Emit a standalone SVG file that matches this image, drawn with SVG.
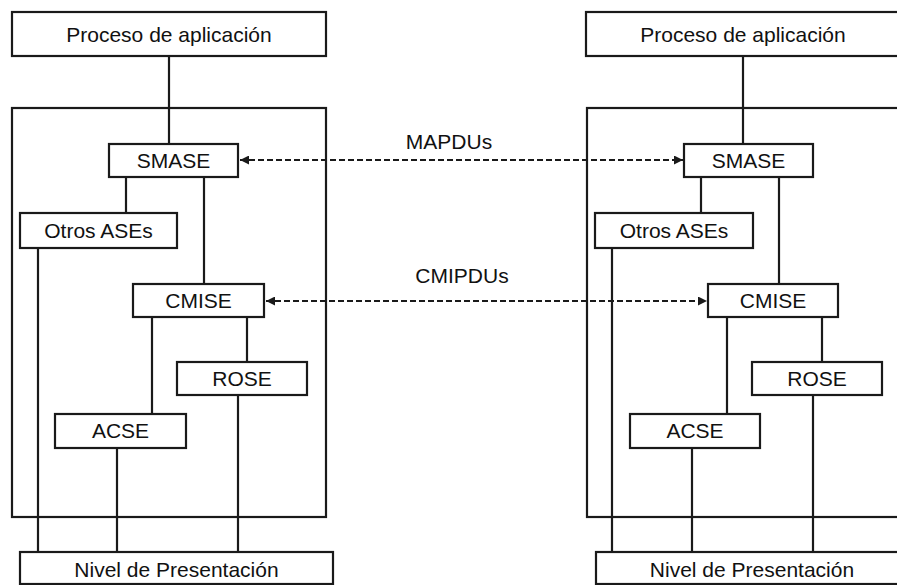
<svg xmlns="http://www.w3.org/2000/svg" width="897" height="585" viewBox="0 0 897 585">
  <defs>
    <style>
      .box { fill: #fff; stroke: #1a1a1a; stroke-width: 2.2; }
      .frame { fill: none; stroke: #1a1a1a; stroke-width: 2.2; }
      .wire { fill: none; stroke: #1a1a1a; stroke-width: 2.2; }
      .pdu { fill: none; stroke: #1a1a1a; stroke-width: 2.2; stroke-dasharray: 6 3; }
      text { font-family: "Liberation Sans", Arial, sans-serif; font-size: 21px; fill: #111; text-anchor: middle; }
    </style>
    <marker id="arr" viewBox="0 0 10 10" refX="10" refY="5" markerWidth="9" markerHeight="9" markerUnits="userSpaceOnUse" orient="auto-start-reverse">
      <path d="M0,0 L10,5 L0,10 z" fill="#1a1a1a"/>
    </marker>
  </defs>

  <rect width="897" height="585" fill="#fff"/>

  <!-- stack frames -->
  <g id="frame-left"><rect class="frame" x="12" y="108" width="314" height="409"/></g>
  <g id="frame-right"><rect class="frame" x="587" y="108" width="330" height="409"/></g>

  <!-- connectors -->
  <g id="connectors">
    <!-- left stack -->
    <line class="wire" x1="169" y1="56" x2="169" y2="144"/>
    <line class="wire" x1="126" y1="177" x2="126" y2="213"/>
    <line class="wire" x1="204" y1="177" x2="204" y2="284"/>
    <line class="wire" x1="38" y1="248" x2="38" y2="552"/>
    <line class="wire" x1="152" y1="317" x2="152" y2="414"/>
    <line class="wire" x1="247" y1="317" x2="247" y2="362"/>
    <line class="wire" x1="238" y1="395" x2="238" y2="552"/>
    <line class="wire" x1="117" y1="448" x2="117" y2="552"/>
    <!-- right stack -->
    <line class="wire" x1="743" y1="56" x2="743" y2="144"/>
    <line class="wire" x1="701" y1="177" x2="701" y2="213"/>
    <line class="wire" x1="779" y1="177" x2="779" y2="284"/>
    <line class="wire" x1="612" y1="248" x2="612" y2="552"/>
    <line class="wire" x1="727" y1="317" x2="727" y2="414"/>
    <line class="wire" x1="822" y1="317" x2="822" y2="362"/>
    <line class="wire" x1="813" y1="395" x2="813" y2="552"/>
    <line class="wire" x1="692" y1="448" x2="692" y2="552"/>
    <!-- peer protocol exchanges -->
    <line class="pdu" x1="240" y1="160" x2="683" y2="160" marker-start="url(#arr)" marker-end="url(#arr)"/>
    <line class="pdu" x1="266" y1="301" x2="707" y2="301" marker-start="url(#arr)" marker-end="url(#arr)"/>
    <text x="449" y="149">MAPDUs</text>
    <text x="462" y="283">CMIPDUs</text>
  </g>

  <!-- left system -->
  <g id="proc-left"><rect class="box" x="12" y="12" width="314" height="44"/><text x="169" y="42">Proceso de aplicación</text></g>
  <g id="smase-left"><rect class="box" x="109" y="144" width="129" height="33"/><text x="173.5" y="168">SMASE</text></g>
  <g id="otros-left"><rect class="box" x="20" y="213" width="157" height="35"/><text x="98.5" y="238">Otros ASEs</text></g>
  <g id="cmise-left"><rect class="box" x="133" y="284" width="131" height="33"/><text x="198.5" y="308">CMISE</text></g>
  <g id="rose-left"><rect class="box" x="177" y="362" width="130" height="33"/><text x="242" y="386">ROSE</text></g>
  <g id="acse-left"><rect class="box" x="55" y="414" width="131" height="34"/><text x="120.5" y="438">ACSE</text></g>
  <g id="nivel-left"><rect class="box" x="20" y="552" width="313" height="32"/><text x="176.5" y="577">Nivel de Presentación</text></g>

  <!-- right system -->
  <g id="proc-right"><rect class="box" x="586" y="12" width="330" height="44"/><text x="743" y="42">Proceso de aplicación</text></g>
  <g id="smase-right"><rect class="box" x="684" y="144" width="129" height="33"/><text x="748.5" y="168">SMASE</text></g>
  <g id="otros-right"><rect class="box" x="595" y="213" width="158" height="35"/><text x="674" y="238">Otros ASEs</text></g>
  <g id="cmise-right"><rect class="box" x="708" y="284" width="130" height="33"/><text x="773" y="308">CMISE</text></g>
  <g id="rose-right"><rect class="box" x="752" y="362" width="130" height="33"/><text x="817" y="386">ROSE</text></g>
  <g id="acse-right"><rect class="box" x="630" y="414" width="130" height="34"/><text x="695" y="438">ACSE</text></g>
  <g id="nivel-right"><rect class="box" x="596" y="552" width="320" height="32"/><text x="752" y="577">Nivel de Presentación</text></g>
</svg>
